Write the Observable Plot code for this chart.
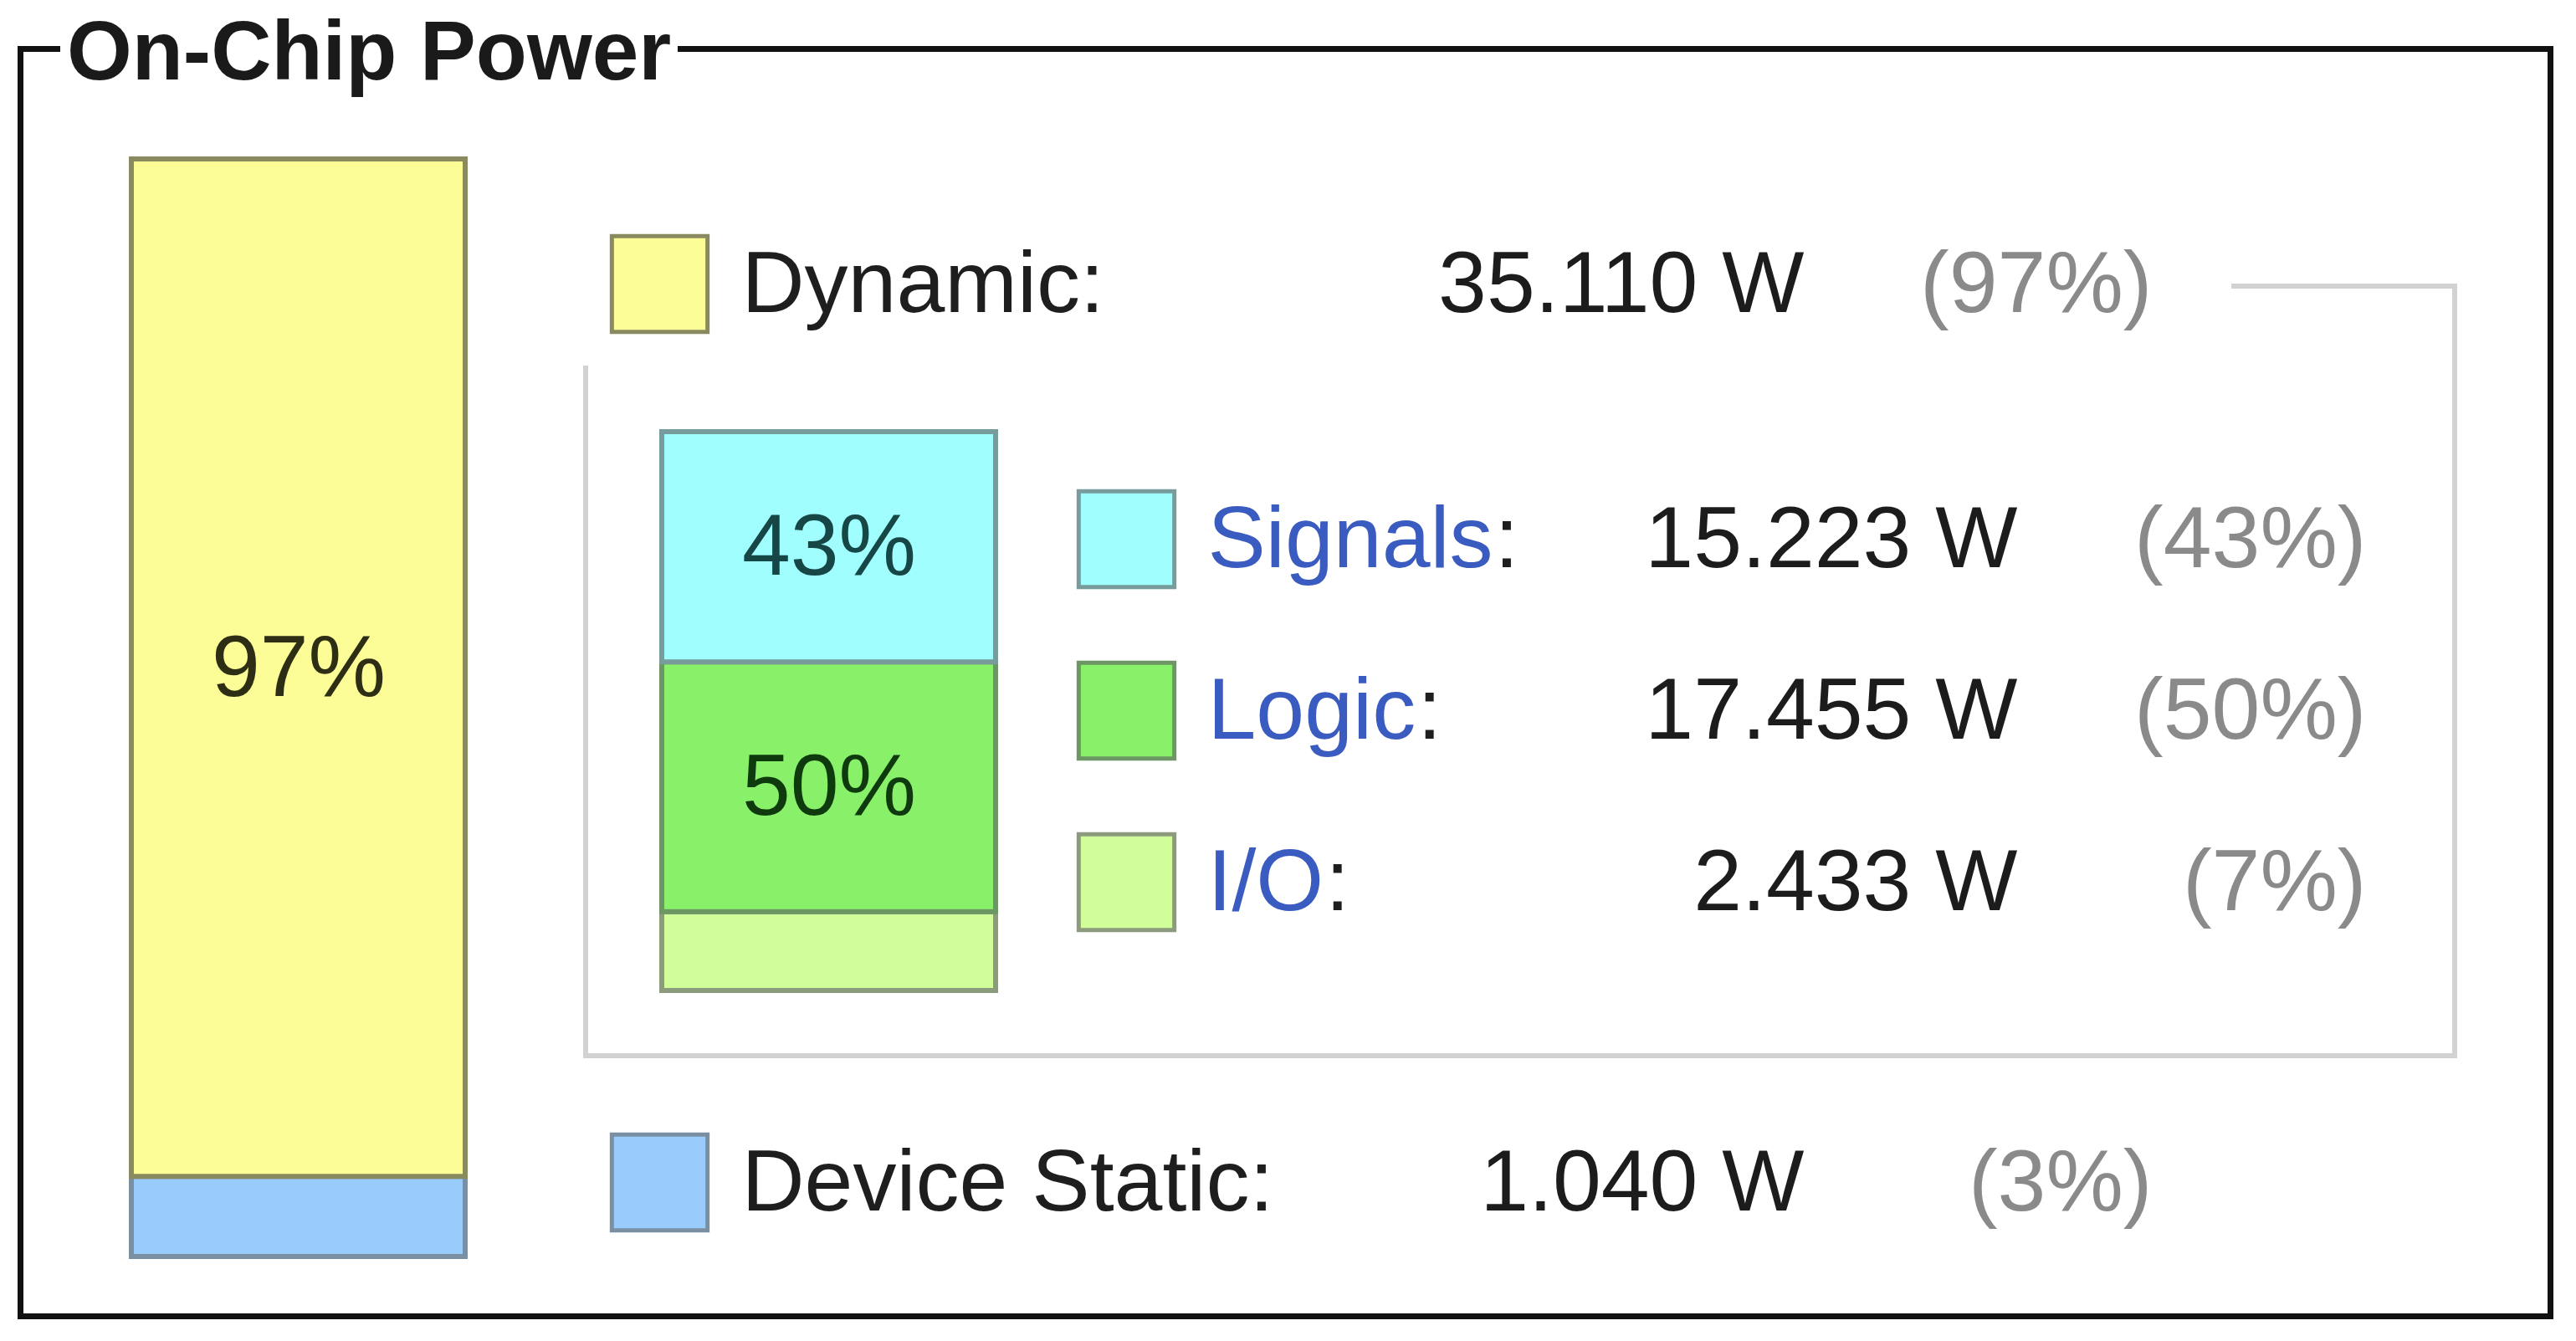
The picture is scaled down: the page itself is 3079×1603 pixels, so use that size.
<!DOCTYPE html>
<html>
<head>
<meta charset="utf-8">
<script src="https://cdn.jsdelivr.net/npm/d3@7"></script>
<script src="https://cdn.jsdelivr.net/npm/@observablehq/plot@0.6"></script>
<style>
  html, body { margin: 0; padding: 0; background: #fff; }
  #stage { position: relative; width: 3079px; height: 1603px; overflow: hidden; background: #fff;
           font-family: "Liberation Sans", Arial, sans-serif; }
  .abs { position: absolute; }
  #frame { left: 21px; top: 55px; width: 3031px; height: 1522px; border: 7px solid #111; box-sizing: border-box; }
  #title { left: 72px; top: 10px; padding: 0 8px; background: #fff; font-weight: bold; font-size: 100px;
           line-height: 100px; color: #1a1a1a; white-space: nowrap; }
  #bracket { left: 697px; top: 437px; width: 2240px; height: 828px; border: 6px solid #d2d2d2;
             border-top: none; box-sizing: border-box; }
  #bracketTop { left: 2667px; top: 339px; width: 270px; height: 110px; border-top: 6px solid #d2d2d2;
                border-right: 6px solid #d2d2d2; box-sizing: border-box; }
  .plot { position: absolute; }
</style>
</head>
<body>
<div id="stage">
  <div id="frame" class="abs"></div>
  <div id="title" class="abs">On-Chip Power</div>
  <div id="bracket" class="abs"></div>
  <div id="bracketTop" class="abs"></div>
</div>
<script>
// ---- Data ----
const totalNames = ["Dynamic", "Device Static"];
const totalWatts = [35.110, 1.040];
const totalPct = [97, 3];
// segment heights as drawn in the left bar (percent of bar height)
const totalBarShare = [92.7, 7.3];

const dynamicNames = ["Signals", "Logic", "I/O"];
const dynamicWatts = [15.223, 17.455, 2.433];
const dynamicPct = [43, 50, 7];
// segment heights as drawn in the breakdown bar (percent of bar height)
const dynamicBarShare = [41.2, 44.7, 14.1];

// ---- Styles ----
const palette = {
  "Dynamic":       {fill: "#fdfd98", stroke: "#8a8a60", ink: "#2e2e14"},
  "Device Static": {fill: "#9accfb", stroke: "#7a90a2", ink: "#1a2a3a"},
  "Signals":       {fill: "#a0fefe", stroke: "#789c9c", ink: "#174646"},
  "Logic":         {fill: "#89f06a", stroke: "#6c9664", ink: "#0e3a0e"},
  "I/O":           {fill: "#d2fe9a", stroke: "#8c9a7e", ink: "#243a10"}
};
const FS = 104;
const FONT = "Liberation Sans, Arial, sans-serif";
const baseStyle = {fontFamily: FONT, fontSize: FS + "px", background: "transparent", overflow: "visible"};

const totalTable = totalNames.map((name, i) => ({bar: "On-Chip", name, watts: totalWatts[i], pct: totalPct[i], share: totalBarShare[i]}));
const dynamicTable = dynamicNames.map((name, i) => ({bar: "Dynamic", name, watts: dynamicWatts[i], pct: dynamicPct[i], share: dynamicBarShare[i]}));

function stackedBar(table, width, height) {
  const rows = table.slice().reverse(); // first item on top
  return Plot.plot({
    width, height, margin: 10,
    x: {type: "band", domain: [table[0].bar], padding: 0, axis: null},
    y: {domain: [0, 100], axis: null},
    color: {type: "identity"},
    style: baseStyle,
    marks: [
      Plot.barY(rows, {x: "bar", y: "share", fill: d => palette[d.name].fill, stroke: d => palette[d.name].stroke, strokeWidth: 6}),
      Plot.text(rows, Plot.stackY({x: "bar", y: "share", text: d => d.pct >= 10 ? d.pct + "%" : "",
        fill: d => palette[d.name].ink, fontSize: FS}))
    ]
  });
}

const ctx = document.createElement("canvas").getContext("2d");
ctx.font = `${FS}px "Liberation Sans", Arial, sans-serif`;
const textW = s => ctx.measureText(s).width;

function legend(table, rowRange, cols, linked) {
  const marks = [
    Plot.dot(table, {y: "name", frameAnchor: "left", dx: cols.swatch, symbol: "square", r: 64.5,
      fill: d => palette[d.name].fill, stroke: d => palette[d.name].stroke, strokeWidth: 5}),
    Plot.text(table, {y: "name", frameAnchor: "left", dx: cols.label, textAnchor: "start",
      text: d => linked ? d.name : d.name + ":", fill: linked ? "#3a5bbf" : "#1e1e1e", fontSize: FS}),
    Plot.text(table, {y: "name", frameAnchor: "left", dx: cols.value, textAnchor: "end",
      text: d => d.watts.toFixed(3) + " W", fill: "#1c1c1c", fontSize: FS}),
    Plot.text(table, {y: "name", frameAnchor: "left", dx: cols.pct, textAnchor: "end",
      text: d => `(${d.pct}%)`, fill: "#8a8a8a", fontSize: FS})
  ];
  if (linked) {
    for (const d of table) {
      marks.push(Plot.text([d], {y: "name", frameAnchor: "left", dx: cols.label + textW(d.name) + 2,
        textAnchor: "start", text: () => ":", fill: "#1e1e1e", fontSize: FS}));
    }
  }
  return Plot.plot({
    width: 3079, height: 1603, margin: 0,
    y: {type: "point", domain: table.map(d => d.name), range: rowRange, padding: 0, axis: null},
    color: {type: "identity"},
    style: baseStyle,
    marks
  });
}

const stage = document.getElementById("stage");
function place(node, left, top) {
  node.classList.add("plot");
  node.style.left = left + "px";
  node.style.top = top + "px";
  stage.appendChild(node);
}

place(stackedBar(totalTable, 419, 1332), 147, 180);
place(stackedBar(dynamicTable, 419, 688), 781, 506);
place(legend(totalTable, [339, 1413], {swatch: 788, label: 886, value: 2156, pct: 2572}, false), 0, 0);
place(legend(dynamicTable, [644, 1054], {swatch: 1346, label: 1443, value: 2411, pct: 2828}, true), 0, 0);
</script>
</body>
</html>
